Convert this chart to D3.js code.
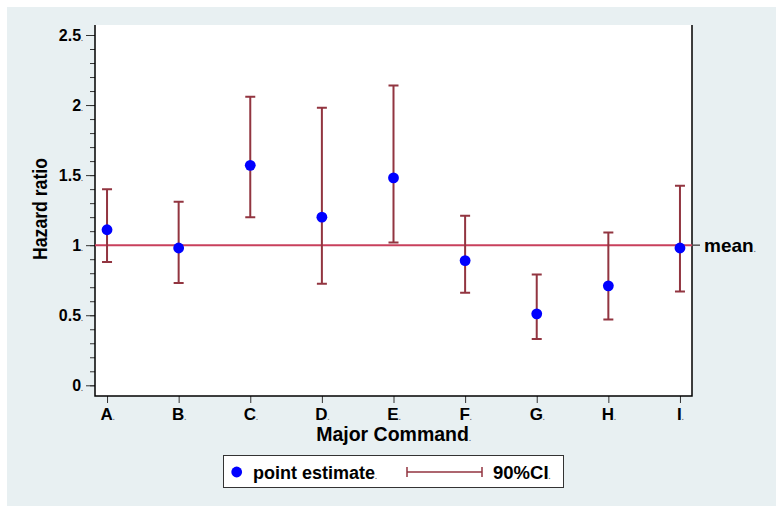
<!DOCTYPE html>
<html>
<head>
<meta charset="utf-8">
<script src="https://cdn.jsdelivr.net/npm/d3@7"></script>
<style>
  body { margin: 0; background: #fff; }
  svg { display: block; }
  text { font-family: "Liberation Sans", Arial, sans-serif; font-weight: bold; }
</style>
</head>
<body>
<svg width="776" height="506"></svg>
<script>
// data
let commands = ["A", "B", "C", "D", "E", "F", "G", "H", "I"];
let estimate = [1.11, 0.98, 1.57, 1.20, 1.48, 0.89, 0.51, 0.71, 0.98];
let lower = [0.88, 0.73, 1.20, 0.725, 1.02, 0.66, 0.33, 0.47, 0.67];
let upper = [1.40, 1.31, 2.06, 1.98, 2.14, 1.21, 0.79, 1.09, 1.425];
let meanValue = 1;
let yTicks = [0, 0.5, 1, 1.5, 2, 2.5];

let margin = ({top: 25, right: 84, bottom: 110, left: 95});
let width = 776, height = 506;
let plotBottom = 396;

let svg = d3.select("svg");

// outer panel
svg.append("rect")
    .attr("x", 7).attr("y", 7)
    .attr("width", width - 7).attr("height", height - 7)
    .attr("fill", "#e8f0f2");

// plot area
svg.append("rect")
    .attr("x", margin.left).attr("y", margin.top)
    .attr("width", width - margin.right - margin.left)
    .attr("height", plotBottom - margin.top)
    .attr("fill", "#fff");

let x = d3.scalePoint(commands, [margin.left, width - margin.right]).padding(0.168);
let y = d3.scaleLinear([0, 2.5], [385.3, 35]);

let addDot = sel => sel.append("tspan")
    .attr("font-size", 7)
    .attr("fill", "#666")
    .text(".");

// y axis minor ticks
svg.append("g")
    .attr("transform", `translate(${margin.left},0)`)
    .call(d3.axisLeft(y).tickValues(d3.range(0, 2.51, 0.1)).tickSize(5).tickFormat(""))
    .call(g => g.select(".domain").remove())
    .call(g => g.selectAll("line").attr("stroke", "#333"));

// y axis major ticks
svg.append("g")
    .attr("transform", `translate(${margin.left},0)`)
    .call(d3.axisLeft(y).tickValues(yTicks).tickSize(9).tickPadding(3).tickFormat(d3.format("~g")))
    .call(g => g.select(".domain").remove())
    .call(g => g.selectAll("line").attr("stroke", "#333"))
    .call(g => g.selectAll("text")
        .attr("font-size", 16)
        .attr("fill", "#000")
        .each(function() { addDot(d3.select(this)); }));

// x axis
svg.append("g")
    .attr("transform", `translate(0,${plotBottom})`)
    .call(d3.axisBottom(x).tickSize(7).tickPadding(5))
    .call(g => g.select(".domain").remove())
    .call(g => g.selectAll("line").attr("stroke", "#333"))
    .call(g => g.selectAll("text")
        .attr("font-size", 17)
        .attr("fill", "#000")
        .each(function() { addDot(d3.select(this)); }));

// frame: left, bottom, right
svg.append("path")
    .attr("d", `M${margin.left},${margin.top}V${plotBottom}H${width - margin.right}V${margin.top}`)
    .attr("fill", "none")
    .attr("stroke", "#000")
    .attr("stroke-width", 1.5);

// mean line
svg.append("line")
    .attr("x1", margin.left).attr("x2", width - margin.right)
    .attr("y1", y(meanValue)).attr("y2", y(meanValue))
    .attr("stroke", "#c8405c")
    .attr("stroke-width", 2);

svg.append("line")
    .attr("x1", width - margin.right).attr("x2", width - margin.right + 8)
    .attr("y1", y(meanValue)).attr("y2", y(meanValue))
    .attr("stroke", "#555")
    .attr("stroke-width", 1.5);

svg.append("text")
    .attr("x", width - margin.right + 12)
    .attr("y", y(meanValue) + 6.8)
    .attr("font-size", 19)
    .text("mean")
    .call(addDot);

// confidence intervals
let rows = commands.map((c, i) => ({c, est: estimate[i], lo: lower[i], hi: upper[i]}));
let ciColor = "#923540";
let cap = 5;

svg.append("g")
    .attr("stroke", ciColor)
    .attr("stroke-width", 2)
    .attr("fill", "none")
    .selectAll("path")
    .data(rows)
    .join("path")
    .attr("d", d => `M${x(d.c)},${y(d.lo)}V${y(d.hi)}M${x(d.c) - cap},${y(d.hi)}H${x(d.c) + cap}M${x(d.c) - cap},${y(d.lo)}H${x(d.c) + cap}`);

// points
svg.append("g")
    .selectAll("circle")
    .data(rows)
    .join("circle")
    .attr("cx", d => x(d.c))
    .attr("cy", d => y(d.est))
    .attr("r", 5.4)
    .attr("fill", "#0000ff");

// axis titles
svg.append("text")
    .attr("transform", "translate(46.5,209) rotate(-90)")
    .attr("text-anchor", "middle")
    .attr("font-size", 20)
    .attr("textLength", 102)
    .attr("lengthAdjust", "spacingAndGlyphs")
    .text("Hazard ratio");

svg.append("text")
    .attr("x", (margin.left + width - margin.right) / 2)
    .attr("y", 440.7)
    .attr("text-anchor", "middle")
    .attr("font-size", 19.5)
    .text("Major Command")
    .call(addDot);

// legend
let legend = svg.append("g");
legend.append("rect")
    .attr("x", 223.5).attr("y", 455.5)
    .attr("width", 340).attr("height", 32)
    .attr("fill", "#fff")
    .attr("stroke", "#333")
    .attr("stroke-width", 1);

legend.append("circle")
    .attr("cx", 236.7).attr("cy", 472)
    .attr("r", 5.4)
    .attr("fill", "#0000ff");

legend.append("text")
    .attr("x", 253).attr("y", 478.5)
    .attr("font-size", 18)
    .text("point estimate")
    .call(addDot);

legend.append("path")
    .attr("d", "M407,472H482M407,467V477M482,467V477")
    .attr("stroke", ciColor)
    .attr("stroke-width", 1.5)
    .attr("fill", "none");

legend.append("text")
    .attr("x", 493).attr("y", 478.5)
    .attr("font-size", 18.5)
    .text("90%CI")
    .call(addDot);
</script>
</body>
</html>
